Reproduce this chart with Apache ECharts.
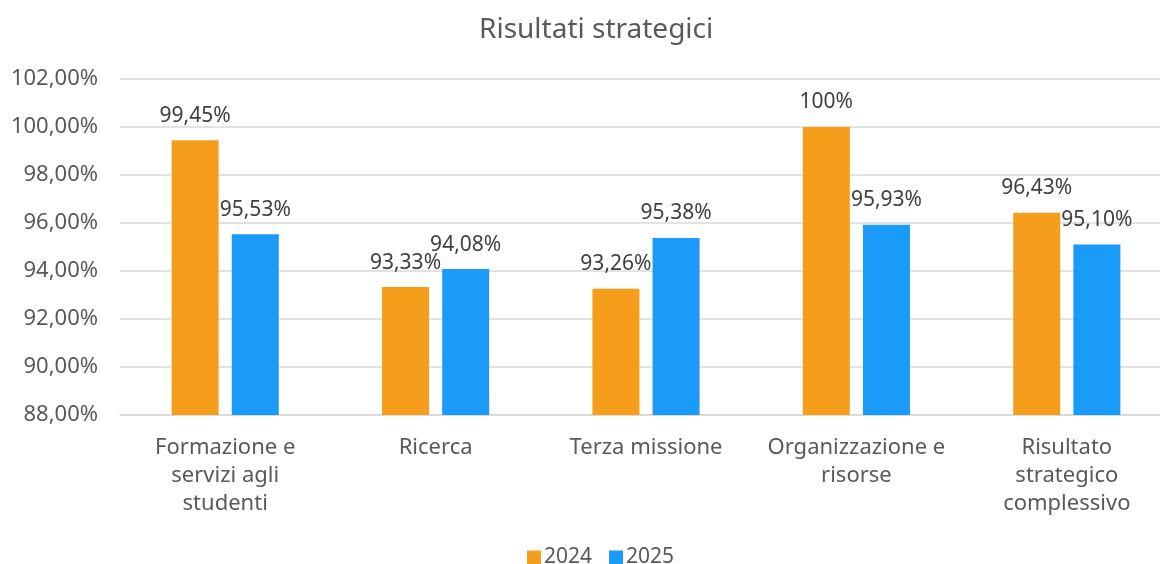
<!DOCTYPE html>
<html>
<head>
<meta charset="utf-8">
<script src="https://cdn.jsdelivr.net/npm/echarts@6/dist/echarts.min.js"></script>
<style>
  html, body { margin: 0; padding: 0; background: #fff; overflow: hidden; width: 1160px; height: 564px; }
  #chart { width: 1172px; height: 564px; }
</style>
</head>
<body>
<div id="chart"></div>
<script>
const categories = [
  'Formazione e\nservizi agli\nstudenti',
  'Ricerca',
  'Terza missione',
  'Organizzazione e\nrisorse',
  'Risultato\nstrategico\ncomplessivo'
];
const seriesNames = ['2024', '2025'];
const values2024 = [99.45, 93.33, 93.26, 100, 96.43];
const values2025 = [95.53, 94.08, 95.38, 95.93, 95.10];
const yTicks = { min: 88, max: 102, interval: 2 };

const FONT = '"Noto Sans", "Open Sans", sans-serif';
const fmtPct = v => (Number.isInteger(v) ? String(v) : v.toFixed(2).replace('.', ',')) + '%';

const chart = echarts.init(document.getElementById('chart'), null, { renderer: 'canvas' });
chart.setOption({
  animation: false,
  textStyle: { fontFamily: FONT },
  title: {
    text: 'Risultati strategici',
    left: 474, top: 11,
    textStyle: { fontFamily: FONT, fontSize: 28, fontWeight: 'normal', color: '#595959' }
  },
  legend: {
    data: seriesNames,
    left: 522, top: 542,
    itemWidth: 14, itemHeight: 14, itemGap: 17,
    icon: 'rect',
    textStyle: { fontFamily: FONT, fontSize: 21, color: '#595959', padding: [0, 0, 0, -2] }
  },
  grid: { left: 120, top: 79, width: 1052, height: 336, containLabel: false },
  xAxis: {
    type: 'category',
    data: categories,
    axisLine: { lineStyle: { color: '#D9D9D9', width: 1.5 } },
    axisTick: { show: false },
    axisLabel: { fontFamily: FONT, fontSize: 22, color: '#595959', lineHeight: 28, margin: 19, interval: 0 }
  },
  yAxis: {
    type: 'value',
    min: yTicks.min, max: yTicks.max, interval: yTicks.interval,
    axisLine: { show: false },
    axisTick: { show: false },
    splitLine: { lineStyle: { color: '#D9D9D9', width: 1.5 } },
    axisLabel: {
      fontFamily: FONT, fontSize: 22, color: '#595959', margin: 22,
      formatter: v => v.toFixed(2).replace('.', ',') + '%'
    }
  },
  series: [
    {
      name: seriesNames[0], type: 'bar', data: values2024,
      barWidth: 47, barGap: '28%',
      itemStyle: { color: '#F59E1B' },
      label: { show: true, position: 'top', distance: 14, fontFamily: FONT, fontSize: 21, color: '#404040',
        formatter: p => fmtPct(p.value) }
    },
    {
      name: seriesNames[1], type: 'bar', data: values2025,
      barWidth: 47, barGap: '28%',
      itemStyle: { color: '#1B9BF9' },
      label: { show: true, position: 'top', distance: 14, fontFamily: FONT, fontSize: 21, color: '#404040',
        formatter: p => fmtPct(p.value) }
    }
  ]
});
</script>
</body>
</html>
